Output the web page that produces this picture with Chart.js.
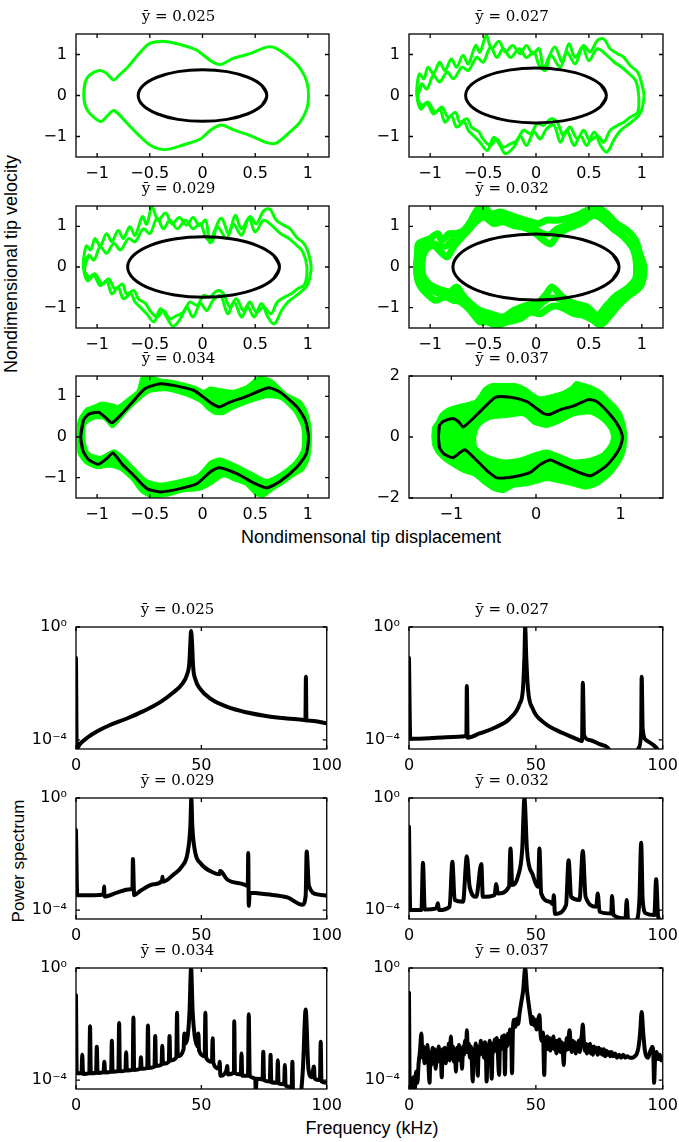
<!DOCTYPE html>
<html>
<head>
<meta charset="utf-8">
<script src="https://cdn.jsdelivr.net/npm/chart.js@4.4.0/dist/chart.umd.min.js"></script>
<style>
  body { margin: 0; background: #fff; }
  #fig { position: relative; width: 679px; height: 1142px; overflow: hidden; background: #fff; }
  .panel { position: absolute; }
  .lbl { position: absolute; font-family: 'Liberation Sans', Arial, sans-serif; font-size: 18px; color: #000;
         white-space: nowrap; transform: translate(-50%, -50%); }
  .rot { transform: translate(-50%, -50%) rotate(-90deg); }
</style>
</head>
<body>
<div id="fig">
  <div class="lbl rot" style="left:11px;top:264px">Nondimensional tip velocity</div>
  <div class="lbl" style="left:371px;top:537px">Nondimensonal tip displacement</div>
  <div class="lbl rot" style="left:19px;top:861px;font-size:17px">Power spectrum</div>
  <div class="lbl" style="left:372px;top:1128px">Frequency (kHz)</div>
</div>
<script>
// ---- titles / ticks ----
const titles = ['ȳ = 0.025', 'ȳ = 0.027', 'ȳ = 0.029', 'ȳ = 0.032', 'ȳ = 0.034', 'ȳ = 0.037'];
const phaseXTicks = [-1, -0.5, 0, 0.5, 1];
const phaseYTicks = [-1, 0, 1];
const wideXTicks = [-1, 0, 1];
const wideYTicks = [-2, 0, 2];
const freqTicks = [0, 50, 100];
const powerTicks = [1e-4, 1];
const powerLabels = ['10⁻⁴', '10⁰'];

// ---- phase portraits (displacement, velocity) ----
const green025 = [[-1.126,0],[-1.113,0.325],[-1.07,0.5],[-0.978,0.61],[-0.915,0.55],[-0.843,0.38],[-0.79,0.5],[-0.71,0.69],
  [-0.617,0.976],[-0.506,1.26],[-0.396,1.32],[-0.27,1.28],[-0.066,1.12],[0.013,0.976],[0.107,0.8],[0.176,0.756],[0.296,0.91],
  [0.45,1.02],[0.61,1.18],[0.7,1.15],[0.86,0.85],[0.94,0.61],[0.99,0.325],[1.006,0],[0.99,-0.325],[0.925,-0.65],[0.83,-0.89],
  [0.7,-1.16],[0.61,-1.15],[0.45,-0.976],[0.296,-0.84],[0.176,-0.72],[0.075,-0.85],[-0.019,-1.06],[-0.176,-1.2],[-0.35,-1.32],
  [-0.49,-1.22],[-0.617,-0.935],[-0.71,-0.69],[-0.84,-0.366],[-0.9,-0.49],[-0.965,-0.634],[-1.066,-0.447],[-1.113,-0.244],[-1.126,0]];
const orbit025 = [[0.61,0],[0.564,0.241],[0.431,0.445],[0.234,0.582],[0,0.63],[-0.234,0.582],[-0.431,0.445],[-0.564,0.241],
  [-0.61,0],[-0.564,-0.241],[-0.431,-0.445],[-0.234,-0.582],[0,-0.63],[0.234,-0.582],[0.431,-0.445],[0.564,-0.241],[0.61,0]];

const greenA027 = [[-1.126,0],[-1.12,0.33],[-1.1,0.53],[-1.06,0.41],[-1.02,0.69],[-0.97,0.53],[-0.91,0.81],[-0.86,0.61],[-0.8,0.89],
  [-0.75,0.69],[-0.69,0.98],[-0.64,0.77],[-0.57,1.22],[-0.53,1.06],[-0.47,1.46],[-0.42,1.14],[-0.35,1.32],[-0.29,1.06],[-0.22,1.22],
  [-0.15,1.02],[-0.09,1.22],[-0.03,1.02],[0.03,1.14],[0.07,0.65],[0.12,0.93],[0.18,1.18],[0.25,0.81],[0.31,1.26],[0.37,0.93],
  [0.45,1.22],[0.51,1.06],[0.58,1.34],[0.64,1.38],[0.7,1.14],[0.77,1.02],[0.83,0.93],[0.89,0.73],[0.96,0.57],[0.99,0.37],[1.02,0],
  [1.0,-0.33],[0.97,-0.49],[0.92,-0.61],[0.86,-0.73],[0.8,-0.85],[0.74,-1.06],[0.67,-1.38],[0.61,-1.22],[0.55,-0.89],[0.48,-1.22],
  [0.42,-0.98],[0.36,-1.22],[0.29,-0.85],[0.23,-1.14],[0.17,-0.73],[0.1,-0.81],[0.04,-1.06],[-0.02,-0.89],[-0.09,-1.22],[-0.15,-0.98],
  [-0.21,-1.26],[-0.29,-1.42],[-0.34,-1.22],[-0.4,-1.02],[-0.46,-1.34],[-0.53,-1.14],[-0.59,-0.98],[-0.64,-0.85],[-0.68,-0.65],
  [-0.75,-0.77],[-0.8,-0.49],[-0.86,-0.65],[-0.91,-0.33],[-0.97,-0.45],[-1.03,-0.2],[-1.09,-0.33],[-1.126,0]];
const greenB027 = [[-1.12,-0.08],[-1.08,0.28],[-1.03,0.16],[-0.97,0.49],[-0.91,0.33],[-0.84,0.57],[-0.78,0.41],[-0.7,0.69],[-0.64,0.61],
  [-0.56,0.93],[-0.5,0.81],[-0.43,1.18],[-0.37,0.93],[-0.31,1.14],[-0.24,0.93],[-0.16,1.14],[-0.09,0.93],[-0.02,1.06],[0.03,0.73],
  [0.09,0.61],[0.14,0.98],[0.23,0.69],[0.29,1.06],[0.37,0.77],[0.44,1.18],[0.5,0.85],[0.58,1.14],[0.67,0.98],[0.74,0.81],[0.81,0.69],
  [0.88,0.53],[0.94,0.37],[0.97,0],[0.96,-0.41],[0.89,-0.53],[0.83,-0.65],[0.77,-0.73],[0.7,-0.85],[0.64,-1.14],[0.58,-0.98],
  [0.51,-1.1],[0.45,-0.85],[0.39,-1.06],[0.32,-0.77],[0.26,-0.98],[0.2,-0.65],[0.14,-0.57],[0.07,-0.73],[0.01,-0.69],[-0.05,-0.93],
  [-0.12,-0.85],[-0.18,-1.1],[-0.24,-1.18],[-0.31,-1.26],[-0.37,-1.06],[-0.43,-1.22],[-0.5,-1.06],[-0.54,-0.89],[-0.61,-0.77],
  [-0.65,-0.57],[-0.72,-0.65],[-0.76,-0.41],[-0.83,-0.53],[-0.89,-0.28],[-0.95,-0.41],[-1.02,-0.16],[-1.08,-0.24],[-1.12,-0.08]];
const orbit027 = [[0.665,0],[0.614,0.257],[0.47,0.474],[0.255,0.619],[0,0.67],[-0.255,0.619],[-0.47,0.474],[-0.614,0.257],
  [-0.665,0],[-0.614,-0.257],[-0.47,-0.474],[-0.255,-0.619],[0,-0.67],[0.255,-0.619],[0.47,-0.474],[0.614,-0.257],[0.665,0]];

const greenA029 = [[-1.13,0],[-1.12,0.34],[-1.1,0.52],[-1.06,0.42],[-1.02,0.7],[-0.97,0.52],[-0.91,0.82],[-0.86,0.62],[-0.8,0.9],
  [-0.75,0.7],[-0.69,0.99],[-0.64,0.78],[-0.57,1.24],[-0.53,1.05],[-0.48,1.47],[-0.42,1.15],[-0.35,1.33],[-0.29,1.06],[-0.22,1.22],
  [-0.15,1.03],[-0.09,1.22],[-0.03,1.02],[0.03,1.15],[0.07,0.6],[0.12,0.93],[0.18,1.2],[0.25,0.82],[0.31,1.27],[0.37,0.94],
  [0.45,1.24],[0.51,1.06],[0.58,1.38],[0.64,1.42],[0.7,1.15],[0.77,1.03],[0.83,0.94],[0.89,0.74],[0.96,0.58],[1.0,0.38],[1.03,0],
  [1.01,-0.34],[0.98,-0.5],[0.93,-0.62],[0.87,-0.74],[0.81,-0.86],[0.75,-1.07],[0.68,-1.4],[0.62,-1.23],[0.56,-0.9],[0.49,-1.23],
  [0.43,-0.99],[0.37,-1.23],[0.3,-0.86],[0.24,-1.15],[0.17,-0.7],[0.1,-0.82],[0.04,-1.07],[-0.02,-0.9],[-0.09,-1.23],[-0.15,-0.99],
  [-0.21,-1.27],[-0.28,-1.46],[-0.34,-1.23],[-0.4,-1.03],[-0.46,-1.35],[-0.53,-1.15],[-0.59,-0.99],[-0.64,-0.86],[-0.68,-0.66],
  [-0.75,-0.78],[-0.8,-0.5],[-0.86,-0.66],[-0.91,-0.34],[-0.97,-0.46],[-1.03,-0.21],[-1.09,-0.34],[-1.13,0]];
const greenB029 = [[-1.12,-0.08],[-1.08,0.29],[-1.03,0.17],[-0.97,0.5],[-0.91,0.34],[-0.84,0.58],[-0.78,0.42],[-0.7,0.7],[-0.64,0.62],
  [-0.56,0.94],[-0.5,0.82],[-0.43,1.2],[-0.37,0.94],[-0.31,1.15],[-0.24,0.94],[-0.16,1.15],[-0.09,0.94],[-0.02,1.07],[0.03,0.74],
  [0.09,0.62],[0.14,0.99],[0.23,0.7],[0.29,1.07],[0.37,0.78],[0.44,1.2],[0.5,0.86],[0.58,1.15],[0.67,0.99],[0.74,0.82],[0.82,0.7],
  [0.89,0.54],[0.95,0.38],[0.99,0],[0.97,-0.42],[0.9,-0.54],[0.84,-0.66],[0.78,-0.74],[0.71,-0.86],[0.65,-1.15],[0.58,-0.99],
  [0.51,-1.11],[0.45,-0.86],[0.39,-1.07],[0.32,-0.78],[0.26,-0.99],[0.2,-0.66],[0.14,-0.58],[0.07,-0.74],[0.01,-0.7],[-0.05,-0.94],
  [-0.12,-0.86],[-0.18,-1.11],[-0.24,-1.19],[-0.31,-1.27],[-0.37,-1.07],[-0.43,-1.23],[-0.5,-1.07],[-0.54,-0.9],[-0.61,-0.78],
  [-0.65,-0.58],[-0.72,-0.66],[-0.76,-0.42],[-0.83,-0.54],[-0.89,-0.29],[-0.95,-0.42],[-1.02,-0.17],[-1.08,-0.25],[-1.12,-0.08]];
const orbit029 = [[0.73,0],[0.675,0.285],[0.519,0.527],[0.286,0.688],[0.01,0.745],[-0.266,0.688],[-0.499,0.527],[-0.655,0.285],
  [-0.71,0],[-0.655,-0.285],[-0.499,-0.527],[-0.266,-0.688],[0.01,-0.745],[0.286,-0.688],[0.519,-0.527],[0.675,-0.285],[0.73,0]];

const greenA032 = [[-1.13,0],[-1.12,0.33],[-1.11,0.57],[-1.04,0.66],[-1.0,0.7],[-0.93,0.82],[-0.89,0.66],[-0.82,0.82],[-0.76,0.82],
  [-0.68,0.9],[-0.62,1.11],[-0.56,1.39],[-0.49,1.49],[-0.43,1.31],[-0.34,1.35],[-0.24,1.27],[-0.15,1.19],[-0.05,1.11],[0.03,1.07],
  [0.1,1.15],[0.2,1.15],[0.29,1.19],[0.39,1.27],[0.48,1.39],[0.58,1.46],[0.67,1.31],[0.76,1.07],[0.86,0.9],[0.94,0.66],[0.98,0.33],
  [1.02,0],[1.0,-0.41],[0.95,-0.57],[0.86,-0.74],[0.78,-0.94],[0.7,-1.19],[0.61,-1.43],[0.54,-1.31],[0.45,-1.19],[0.36,-1.15],
  [0.23,-0.98],[0.14,-0.98],[0.04,-1.15],[-0.05,-1.11],[-0.15,-1.27],[-0.27,-1.35],[-0.37,-1.43],[-0.46,-1.35],[-0.53,-1.35],
  [-0.62,-1.07],[-0.71,-0.86],[-0.78,-0.82],[-0.86,-0.74],[-0.95,-0.82],[-1.03,-0.66],[-1.09,-0.49],[-1.12,-0.29],[-1.13,0]];
const greenB032 = [[-1.08,0],[-1.07,0.25],[-1.03,0.45],[-0.97,0.53],[-0.9,0.37],[-0.84,0.25],[-0.78,0.49],[-0.7,0.74],[-0.64,0.9],
  [-0.57,1.11],[-0.49,1.23],[-0.4,1.07],[-0.31,1.11],[-0.21,1.02],[-0.12,0.98],[-0.02,0.86],[0.07,0.66],[0.14,0.57],[0.2,0.78],
  [0.29,0.94],[0.42,1.07],[0.54,1.27],[0.62,1.19],[0.73,0.94],[0.83,0.74],[0.91,0.49],[0.94,0.25],[0.95,0],[0.94,-0.29],[0.86,-0.53],
  [0.76,-0.7],[0.67,-0.94],[0.58,-1.19],[0.48,-0.98],[0.36,-0.9],[0.25,-0.74],[0.15,-0.49],[0.1,-0.66],[0.01,-0.9],[-0.08,-0.94],
  [-0.21,-1.07],[-0.31,-1.23],[-0.43,-1.15],[-0.53,-1.07],[-0.6,-0.94],[-0.68,-0.74],[-0.75,-0.49],[-0.81,-0.61],[-0.89,-0.57],
  [-0.97,-0.49],[-1.03,-0.37],[-1.07,-0.2],[-1.08,0]];
const greenC032 = [[-1.1,0],[-1.1,0.3],[-1.07,0.5],[-1.0,0.6],[-0.93,0.55],[-0.86,0.5],[-0.8,0.65],[-0.73,0.8],[-0.65,1.0],
  [-0.58,1.22],[-0.5,1.35],[-0.42,1.2],[-0.33,1.22],[-0.23,1.13],[-0.13,1.08],[-0.03,0.98],[0.05,0.85],[0.12,0.8],[0.2,0.95],
  [0.3,1.05],[0.42,1.17],[0.52,1.33],[0.6,1.3],[0.7,1.05],[0.8,0.83],[0.88,0.6],[0.94,0.3],[0.97,0],[0.96,-0.35],[0.9,-0.55],
  [0.8,-0.72],[0.71,-0.95],[0.62,-1.28],[0.52,-1.15],[0.4,-1.05],[0.28,-0.88],[0.16,-0.75],[0.08,-0.85],[0,-1.02],[-0.1,-1.03],
  [-0.2,-1.17],[-0.32,-1.32],[-0.44,-1.25],[-0.55,-1.2],[-0.63,-1.0],[-0.7,-0.8],[-0.77,-0.65],[-0.85,-0.66],[-0.93,-0.65],
  [-1.02,-0.52],[-1.08,-0.3],[-1.1,0]];
const orbit032 = [[0.785,0],[0.725,0.31],[0.555,0.573],[0.301,0.748],[0,0.81],[-0.301,0.748],[-0.555,0.573],[-0.725,0.31],
  [-0.785,0],[-0.725,-0.31],[-0.555,-0.573],[-0.301,-0.748],[0,-0.81],[0.301,-0.748],[0.555,-0.573],[0.725,-0.31],[0.785,0]];

const outer034 = [[-1.19,0],[-1.18,0.41],[-1.11,0.7],[-1.03,0.78],[-0.96,0.86],[-0.86,0.82],[-0.8,0.78],[-0.72,0.94],[-0.62,1.15],
  [-0.58,1.48],[-0.5,1.52],[-0.4,1.43],[-0.28,1.39],[-0.15,1.31],[-0.05,1.23],[0.01,1.15],[0.07,1.23],[0.17,1.19],[0.29,1.15],
  [0.42,1.27],[0.52,1.48],[0.59,1.48],[0.67,1.39],[0.8,1.07],[0.93,0.9],[0.99,0.66],[1.03,0.25],[1.03,-0.25],[1.01,-0.57],[0.96,-0.82],
  [0.86,-0.98],[0.77,-1.15],[0.67,-1.31],[0.58,-1.48],[0.5,-1.43],[0.41,-1.19],[0.29,-1.07],[0.2,-0.98],[0.1,-1.15],[-0.02,-1.31],
  [-0.18,-1.35],[-0.34,-1.46],[-0.5,-1.48],[-0.59,-1.35],[-0.67,-1.07],[-0.78,-0.82],[-0.88,-0.74],[-1.0,-0.78],[-1.11,-0.66],
  [-1.18,-0.41],[-1.19,0]];
const inner034 = [[-1.11,0],[-1.1,0.29],[-1.03,0.41],[-0.94,0.41],[-0.86,0.2],[-0.81,0.29],[-0.72,0.57],[-0.59,0.9],[-0.5,1.07],
  [-0.34,1.11],[-0.15,0.98],[-0.02,0.82],[0.04,0.66],[0.12,0.53],[0.2,0.53],[0.29,0.66],[0.45,0.82],[0.61,0.94],[0.74,0.9],[0.86,0.61],
  [0.93,0.25],[0.94,0],[0.93,-0.33],[0.86,-0.61],[0.74,-0.86],[0.61,-1.02],[0.48,-0.86],[0.33,-0.66],[0.17,-0.49],[0.07,-0.57],
  [-0.05,-0.9],[-0.21,-1.02],[-0.4,-1.11],[-0.53,-1.02],[-0.64,-0.74],[-0.73,-0.49],[-0.83,-0.29],[-0.88,-0.33],[-0.97,-0.45],
  [-1.07,-0.37],[-1.1,-0.16],[-1.11,0]];
const orbit034 = [[-1.155,0],[-1.13,0.41],[-1.08,0.56],[-0.987,0.61],[-0.924,0.49],[-0.86,0.35],[-0.78,0.53],[-0.67,0.84],[-0.544,1.19],
  [-0.4,1.31],[-0.275,1.27],[-0.085,1.15],[0.009,0.98],[0.089,0.82],[0.16,0.74],[0.263,0.86],[0.42,1.0],[0.627,1.21],[0.737,1.1],
  [0.896,0.74],[0.975,0.41],[1.006,0],[0.984,-0.41],[0.896,-0.74],[0.737,-1.09],[0.61,-1.25],[0.484,-1.13],[0.326,-0.9],[0.16,-0.754],
  [0.073,-0.86],[-0.054,-1.15],[-0.212,-1.27],[-0.4,-1.35],[-0.528,-1.27],[-0.655,-0.94],[-0.766,-0.656],[-0.85,-0.393],[-0.908,-0.53],
  [-0.987,-0.67],[-1.08,-0.557],[-1.136,-0.328],[-1.155,0]];

const outer037 = [[-1.23,0],[-1.22,0.33],[-1.17,0.55],[-1.13,0.77],[-1.05,0.94],[-0.93,1.05],[-0.82,1.12],[-0.72,1.21],[-0.66,1.43],
  [-0.62,1.6],[-0.54,1.74],[-0.38,1.76],[-0.22,1.74],[-0.11,1.6],[-0.03,1.43],[0.05,1.32],[0.17,1.38],[0.31,1.49],[0.41,1.65],
  [0.47,1.82],[0.56,1.76],[0.68,1.65],[0.78,1.49],[0.88,1.21],[0.96,0.99],[1.02,0.72],[1.06,0.33],[1.07,0],[1.06,-0.39],[1.02,-0.72],
  [0.96,-0.99],[0.88,-1.27],[0.76,-1.54],[0.68,-1.65],[0.58,-1.71],[0.49,-1.65],[0.37,-1.56],[0.25,-1.49],[0.13,-1.43],[0.01,-1.52],
  [-0.11,-1.6],[-0.26,-1.65],[-0.38,-1.82],[-0.5,-1.76],[-0.62,-1.54],[-0.74,-1.27],[-0.86,-1.16],[-0.97,-0.99],[-1.09,-0.77],
  [-1.17,-0.55],[-1.22,-0.28],[-1.23,0]];
const inner037 = [[-0.7,0],[-0.66,0.33],[-0.54,0.55],[-0.34,0.61],[-0.15,0.66],[-0.03,0.39],[0.13,0.28],[0.29,0.44],[0.45,0.66],
  [0.64,0.72],[0.78,0.5],[0.86,0.22],[0.88,0],[0.86,-0.22],[0.78,-0.5],[0.64,-0.66],[0.45,-0.72],[0.29,-0.55],[0.13,-0.39],
  [-0.03,-0.5],[-0.19,-0.66],[-0.38,-0.72],[-0.58,-0.55],[-0.69,-0.31],[-0.7,0]];
const orbit037 = [[-1.152,0],[-1.14,0.385],[-1.09,0.52],[-0.98,0.61],[-0.915,0.5],[-0.86,0.33],[-0.785,0.5],[-0.66,0.83],[-0.48,1.3],
  [-0.3,1.3],[-0.107,1.16],[-0.008,0.97],[0.09,0.77],[0.16,0.74],[0.29,0.9],[0.446,1.02],[0.623,1.23],[0.72,1.16],[0.88,0.72],
  [0.98,0.33],[1.02,0],[0.99,-0.35],[0.92,-0.66],[0.82,-0.97],[0.643,-1.27],[0.505,-1.16],[0.29,-0.9],[0.17,-0.75],[0.05,-0.9],
  [-0.067,-1.16],[-0.264,-1.3],[-0.46,-1.34],[-0.58,-1.1],[-0.7,-0.77],[-0.836,-0.42],[-0.894,-0.5],[-0.98,-0.68],[-1.09,-0.55],
  [-1.14,-0.35],[-1.152,0]];

// ---- power spectra: [frequency kHz, log10 power] ----
const spec025 = [[0,-1.1],[0.3,-4.3],[1.6,-4.14],[4.3,-3.93],[8.3,-3.7],[13.6,-3.47],[20.3,-3.24],[26.9,-2.98],[33.6,-2.66],
  [38.9,-2.31],[42.3,-2.02],[44.3,-1.68],[45.2,-1.27],[45.6,-0.58],[45.9,-0.14],[46.3,-0.58],[46.7,-1.39],[47.6,-1.85],[49.6,-2.2],
  [53.6,-2.54],[60.3,-2.83],[68.3,-3.03],[76.3,-3.16],[84.3,-3.24],[90.9,-3.29],[91.5,-3.3],[91.7,-1.76],[91.9,-3.3],[92.5,-3.31],
  [94.9,-3.33],[100,-3.41]];
const spec027 = [[0,-1.1],[0.5,-3.96],[8.1,-3.94],[14.7,-3.9],[22.6,-3.86],[22.8,-2.09],[23.1,-3.92],[27.8,-3.77],[34.4,-3.54],
  [39.6,-3.25],[43.6,-2.72],[44.9,-2.2],[45.5,-1.04],[45.8,0],[46.2,-1.04],[46.9,-2.2],[48.8,-2.9],[52.8,-3.36],[58,-3.65],
  [64.6,-3.91],[67.8,-4.03],[68.2,-4.04],[68.5,-1.97],[69,-3.83],[71.1,-4.0],[75.1,-4.15],[78.3,-4.27],[80,-4.5],[89,-4.5],
  [90.6,-4.27],[91.5,-3.71],[91.7,-1.76],[92.1,-3.6],[93.4,-4.0],[97.4,-4.27],[99,-4.5]];
const spec029 = [[0,-1.14],[0.5,-3.47],[6.9,-3.47],[11,-3.44],[11.2,-3.16],[11.4,-3.52],[16.3,-3.38],[21.6,-3.26],[22.5,-3.24],
  [22.7,-2.18],[23.2,-3.47],[25.6,-3.32],[30.9,-3.08],[34.3,-2.96],[34.5,-2.81],[34.7,-2.99],[38.9,-2.73],[42.3,-2.44],[44.5,-1.96],
  [45.6,-1.02],[46,-0.02],[46.4,-1.02],[47.6,-1.96],[49.6,-2.32],[54.9,-2.67],[57.3,-2.72],[57.5,-2.61],[60.3,-2.91],[66.9,-3.08],
  [68.5,-3.14],[68.7,-1.96],[68.9,-3.85],[69.3,-3.38],[76.3,-3.44],[84.3,-3.55],[90.3,-3.81],[91.6,-3.49],[92,-1.91],[92.9,-3.14],
  [96.3,-3.44],[100,-3.49]];
const spec032 = [[0,-1.03],[0.5,-4.0],[4.9,-4.0],[5.5,-2.31],[6.2,-3.98],[10.8,-3.94],[11.4,-3.76],[11.8,-4.0],[16,-3.88],[17.1,-2.28],
  [18,-3.64],[21.3,-3.7],[22.8,-2.08],[23.9,-3.17],[26.5,-3.53],[28.5,-2.36],[29.1,-3.53],[33.7,-3.47],[34.4,-3.07],[35,-3.41],
  [39.4,-3.17],[40,-1.8],[40.7,-3.11],[42.9,-2.81],[44.6,-1.86],[45.5,0],[46.5,-1.86],[48.8,-2.75],[50.9,-3.17],[51.4,-1.8],
  [52.1,-3.41],[55.4,-3.7],[56.7,-3.79],[57.1,-3.47],[57.5,-4.14],[61.9,-3.82],[62.9,-2.22],[63.9,-3.53],[67.2,-3.64],[68.5,-1.89],
  [69.6,-3.53],[73.8,-3.88],[74.4,-3.41],[75.1,-4.06],[79.7,-4.12],[80,-3.5],[80.6,-4.18],[85.3,-4.3],[85.8,-3.64],[86.4,-4.42],
  [89.5,-4.36],[90.8,-3.64],[91.5,-1.6],[92.1,-3.64],[93.4,-4.12],[96.7,-4.18],[97.4,-2.9],[98.2,-4.24],[99.3,-4.36]];
const spec034 = [[0,-0.97],[0.3,-3.76],[2.2,-3.76],[2.5,-3.1],[2.8,-3.78],[5.3,-3.75],[5.6,-2.08],[5.9,-3.76],[8,-3.74],[8.3,-2.81],
  [8.6,-3.75],[11,-3.72],[11.3,-3.35],[11.6,-3.73],[14,-3.7],[14.3,-2.6],[14.6,-3.7],[16.9,-3.68],[17.2,-1.96],[17.5,-3.69],
  [19.7,-3.66],[20,-3.01],[20.3,-3.66],[22.6,-3.63],[22.9,-1.77],[23.2,-3.64],[25.6,-3.6],[25.9,-3.19],[26.2,-3.6],[28.4,-3.57],
  [28.7,-2.05],[29,-3.57],[31.3,-3.52],[31.6,-2.43],[31.9,-3.5],[34.1,-3.45],[34.4,-2.78],[34.7,-3.42],[37,-3.35],[37.3,-2.43],
  [37.6,-3.3],[40,-3.2],[40.3,-1.6],[40.6,-3.15],[42.9,-2.9],[43.2,-2.34],[43.6,-2.7],[44.6,-2.4],[45.3,-1.5],[45.9,0],[46.5,-1.5],
  [47.3,-2.4],[48.5,-2.8],[48.8,-2.34],[49.1,-2.95],[51.3,-3.15],[51.6,-1.6],[51.9,-3.2],[54.2,-3.35],[54.5,-2.51],[54.8,-3.4],
  [57,-3.6],[57.3,-3.35],[57.6,-3.85],[60,-3.65],[60.3,-3.5],[60.6,-3.8],[63,-3.72],[63.1,-1.9],[63.4,-3.75],[65.7,-3.8],[66,-3.05],
  [66.3,-3.85],[68.6,-3.85],[68.9,-1.65],[69.3,-3.85],[71.5,-3.95],[71.7,-4.5],[72,-3.95],[74.4,-3.98],[74.7,-2.99],[75,-4.0],
  [77.3,-4.05],[77.6,-3.1],[77.9,-4.08],[80.2,-4.1],[80.5,-3.29],[80.8,-4.12],[83,-4.15],[83.3,-3.46],[83.6,-4.2],[86,-4.25],
  [86.3,-3.35],[86.6,-4.5],[89.5,-4.5],[90.5,-3.6],[91.6,-1.48],[92.7,-3.6],[94,-3.9],[94.9,-3.52],[95.2,-3.95],[97.3,-4.0],
  [97.6,-2.63],[97.9,-4.05],[100,-4.1]];
const spec037 = [[0,-0.88],[0.3,-4.3],[1.2,-4.25],[1.8,-3.9],[2.3,-4.3],[2.8,-3.7],[3.3,-4.1],[3.8,-3.4],[4.3,-3.0],[4.9,-2.34],
  [5.3,-3.2],[5.7,-2.8],[6.1,-3.4],[6.5,-2.9],[6.9,-3.3],[7.3,-2.75],[7.7,-3.5],[8.1,-4.1],[8.5,-3.0],[8.9,-3.45],[9.3,-2.85],
  [9.7,-3.3],[10.1,-2.9],[10.5,-3.6],[10.9,-2.95],[11.3,-3.35],[11.7,-2.8],[12.1,-3.3],[12.5,-3.0],[12.9,-3.9],[13.3,-2.9],
  [13.7,-3.3],[14.1,-2.85],[14.5,-3.4],[14.9,-2.9],[15.3,-3.2],[15.7,-2.7],[16.1,-3.3],[16.5,-2.45],[16.9,-3.1],[17.3,-2.8],
  [17.7,-3.35],[18.1,-2.9],[18.5,-3.7],[18.9,-2.85],[19.3,-3.2],[19.7,-2.75],[20.1,-3.3],[20.5,-2.9],[20.9,-3.6],[21.3,-2.8],
  [21.7,-3.1],[22.1,-2.6],[22.5,-3.0],[22.8,-2.22],[23.2,-3.0],[23.6,-2.7],[24,-3.2],[24.4,-2.8],[24.8,-3.4],[25.1,-4.05],
  [25.5,-2.9],[25.9,-3.2],[26.3,-2.7],[26.7,-3.1],[27.1,-3.85],[27.5,-2.8],[27.9,-3.1],[28.3,-2.6],[28.7,-3.0],[29.1,-2.7],
  [29.5,-3.2],[29.9,-2.65],[30.3,-3.0],[30.6,-4.05],[31,-2.8],[31.4,-3.1],[31.8,-2.6],[32.2,-3.0],[32.6,-3.95],[33,-2.7],
  [33.4,-3.0],[33.8,-2.55],[34.2,-2.9],[34.6,-2.5],[35,-3.0],[35.5,-3.82],[35.9,-2.6],[36.3,-2.9],[36.7,-2.45],[37.1,-2.85],
  [37.5,-2.4],[37.8,-3.8],[38.2,-2.5],[38.6,-2.8],[39,-2.35],[39.4,-2.7],[39.8,-2.2],[40.3,-2.5],[40.6,-3.76],[41,-2.1],
  [41.5,-1.85],[42,-2.1],[42.5,-1.8],[43,-2.0],[43.6,-1.6],[44.3,-1.2],[45,-0.8],[45.8,0],[46.5,-0.8],[47.2,-1.3],[47.8,-1.7],
  [48.3,-2.0],[48.8,-1.75],[49.3,-2.05],[49.8,-1.85],[50.3,-2.2],[50.8,-1.9],[51.4,-1.68],[51.8,-2.3],[52.3,-2.6],[52.8,-2.3],
  [53.3,-3.82],[53.7,-2.5],[54.1,-2.8],[54.5,-2.45],[54.9,-2.9],[55.3,-2.5],[55.7,-2.95],[56.1,-2.55],[56.5,-2.85],[56.9,-2.45],
  [57.3,-2.9],[57.7,-2.6],[58.1,-3.05],[58.5,-2.6],[58.9,-2.9],[59.3,-2.55],[59.7,-3.0],[60.1,-2.65],[60.6,-2.95],[61,-3.46],
  [61.4,-2.7],[61.8,-2.95],[62.2,-2.5],[62.6,-2.9],[63,-2.4],[63.3,-2.22],[63.7,-2.8],[64.1,-3.0],[64.5,-2.6],[64.9,-2.95],
  [65.3,-2.65],[65.7,-3.05],[66.1,-2.7],[66.5,-2.95],[66.9,-2.6],[67.3,-3.0],[67.7,-2.6],[68.1,-2.4],[68.5,-2.02],[68.9,-2.6],
  [69.3,-2.95],[69.7,-2.7],[70.1,-3.05],[70.5,-2.75],[70.9,-3.0],[71.3,-2.7],[71.7,-3.05],[72.1,-2.8],[72.5,-3.1],[72.9,-2.8],
  [73.3,-3.0],[73.8,-2.85],[74.3,-3.1],[74.8,-2.85],[75.3,-3.05],[75.8,-2.9],[76.3,-3.1],[76.8,-2.9],[77.3,-3.15],[77.8,-2.95],
  [78.3,-3.1],[78.8,-3.0],[79.3,-3.15],[79.8,-3.0],[80.5,-3.15],[81.2,-3.05],[82,-3.2],[82.8,-3.1],[83.6,-3.2],[84.4,-3.1],
  [85.2,-3.2],[86,-3.15],[87,-3.2],[88,-3.2],[89,-3.15],[89.8,-3.05],[90.5,-2.8],[91.1,-2.3],[91.7,-1.57],[92.3,-2.3],[92.9,-2.9],
  [93.5,-3.15],[94.2,-3.2],[94.8,-3.05],[95.4,-2.9],[95.9,-2.81],[96.3,-3.1],[96.6,-4.1],[97,-3.2],[97.6,-3.0],[98.2,-3.25],
  [98.8,-3.1],[99.4,-3.3],[100,-3.25]];

// ---- layout ----
const PADL = 48, PADR = 22, PADT = 30, PADB = 34;
const GREEN = 'rgb(0,255,0)';
const fig = document.getElementById('fig');

Chart.defaults.font.family = "'DejaVu Sans', sans-serif";
Chart.defaults.font.size = 16;
Chart.defaults.color = '#000';

// box with inward ticks on all four sides, drawn over the data like matlab
const frame = {
  id: 'frame',
  afterDatasetsDraw(chart) {
    const { ctx, chartArea: a, scales: { x, y } } = chart;
    ctx.save();
    ctx.strokeStyle = '#000';
    ctx.lineWidth = 1.3;
    ctx.strokeRect(a.left, a.top, a.right - a.left, a.bottom - a.top);
    ctx.beginPath();
    x.ticks.forEach(t => {
      const px = x.getPixelForValue(t.value);
      ctx.moveTo(px, a.bottom); ctx.lineTo(px, a.bottom - 4);
      ctx.moveTo(px, a.top); ctx.lineTo(px, a.top + 4);
    });
    y.ticks.forEach(t => {
      const py = y.getPixelForValue(t.value);
      ctx.moveTo(a.left, py); ctx.lineTo(a.left + 4, py);
      ctx.moveTo(a.right, py); ctx.lineTo(a.right - 4, py);
    });
    ctx.stroke();
    ctx.restore();
  }
};

function fmt(v) {
  return v < 0 ? '\u2212' + Math.abs(v) : String(v);
}

// closed loops: repeat a neighbour at each end so the smoothed curve has no corner at the seam
function loop(pts) {
  return [pts[pts.length - 2], ...pts, pts[1]];
}

function axis(min, max, ticks, labels, isX, type) {
  return {
    type: type || 'linear',
    min: min, max: max,
    grid: { display: false, drawTicks: false },
    border: { display: false },
    afterBuildTicks: s => { s.ticks = ticks.map(v => ({ value: v })); },
    afterFit: s => { if (isX) s.height = PADB; else s.width = PADL; },
    ticks: { padding: isX ? 7 : 9, autoSkip: false, maxRotation: 0,
             callback: (v, i) => labels[i] }
  };
}

function line(pts, color, width, tension) {
  return {
    data: pts.map(p => ({ x: p[0], y: p[1] })),
    showLine: true, borderColor: color, borderWidth: width,
    pointRadius: 0, tension: tension || 0, fill: false
  };
}

function spectrum(pts) {
  return {
    data: pts.map(p => ({ x: p[0], y: Math.pow(10, p[1]) })),
    showLine: true, borderColor: '#000', borderWidth: 4,
    pointRadius: 0, cubicInterpolationMode: 'monotone', fill: false
  };
}

function area(pts, color) {
  return {
    data: pts.map(p => ({ x: p[0], y: p[1] })),
    showLine: true, borderColor: color, backgroundColor: color, borderWidth: 1,
    pointRadius: 0, tension: 0.2, fill: 'shape'
  };
}

function addPanel(box, title, datasets, xs, ys) {
  const [l, t, r, b] = box;
  const div = document.createElement('div');
  div.className = 'panel';
  div.style.left = (l - PADL) + 'px';
  div.style.top = (t - PADT) + 'px';
  div.style.width = (r - l + PADL + PADR) + 'px';
  div.style.height = (b - t + PADT + PADB) + 'px';
  const cv = document.createElement('canvas');
  div.appendChild(cv);
  fig.appendChild(div);
  new Chart(cv, {
    type: 'scatter',
    data: { datasets: datasets },
    options: {
      responsive: true, maintainAspectRatio: false, animation: false,
      layout: { padding: { right: PADR } },
      elements: { line: { borderJoinStyle: 'round', borderCapStyle: 'round' } },
      plugins: {
        legend: { display: false },
        tooltip: { enabled: false },
        title: { display: true, text: title, color: '#000',
                 font: { family: "'DejaVu Serif', serif", size: 15, weight: 'normal', lineHeight: 1.1 },
                 padding: { top: 5, bottom: 8.5 } }
      },
      scales: { x: xs, y: ys }
    },
    plugins: [frame]
  });
}

const phaseX = () => axis(-1.2, 1.2, phaseXTicks, phaseXTicks.map(fmt), true);
const phaseY = () => axis(-1.5, 1.5, phaseYTicks, phaseYTicks.map(fmt), false);
const freqX = () => axis(0, 100, freqTicks, freqTicks.map(fmt), true);
const powerY = () => axis(Math.pow(10, -4.32), 1, powerTicks, powerLabels, false, 'logarithmic');

// phase portraits
addPanel([76, 34, 329, 157], titles[0],
  [line(loop(orbit025), '#000', 3, 0.4), line(loop(green025), GREEN, 3, 0.3)], phaseX(), phaseY());
addPanel([409, 34, 663, 157], titles[1],
  [line(loop(orbit027), '#000', 3, 0.4), line(loop(greenA027), GREEN, 3, 0.35), line(loop(greenB027), GREEN, 3, 0.35)],
  phaseX(), phaseY());
addPanel([76, 206, 329, 328], titles[2],
  [line(loop(orbit029), '#000', 3, 0.4), line(loop(greenA029), GREEN, 3, 0.35), line(loop(greenB029), GREEN, 3, 0.35)],
  phaseX(), phaseY());
addPanel([409, 206, 663, 328], titles[3],
  [line(loop(orbit032), '#000', 3, 0.4), line(loop(greenA032), GREEN, 7, 0.3), line(loop(greenB032), GREEN, 7, 0.3),
   line(loop(greenC032), GREEN, 6, 0.3)],
  phaseX(), phaseY());
addPanel([76, 376, 329, 498], titles[4],
  [line(loop(orbit034), '#000', 3, 0.2), area(inner034, '#fff'), area(outer034, GREEN)], phaseX(), phaseY());
addPanel([409, 376, 663, 498], titles[5],
  [line(loop(orbit037), '#000', 3, 0.2), area(inner037, '#fff'), area(outer037, GREEN)],
  axis(-1.5, 1.5, wideXTicks, wideXTicks.map(fmt), true), axis(-2, 2, wideYTicks, wideYTicks.map(fmt), false));

// spectra
addPanel([76, 627, 327, 749], titles[0], [spectrum(spec025)], freqX(), powerY());
addPanel([409, 627, 663, 749], titles[1], [spectrum(spec027)], freqX(), powerY());
addPanel([76, 798, 327, 919], titles[2], [spectrum(spec029)], freqX(), powerY());
addPanel([409, 798, 663, 919], titles[3], [spectrum(spec032)], freqX(), powerY());
addPanel([76, 968, 327, 1089], titles[4], [spectrum(spec034)], freqX(), powerY());
addPanel([409, 968, 663, 1089], titles[5], [spectrum(spec037)], freqX(), powerY());
</script>
</body>
</html>
